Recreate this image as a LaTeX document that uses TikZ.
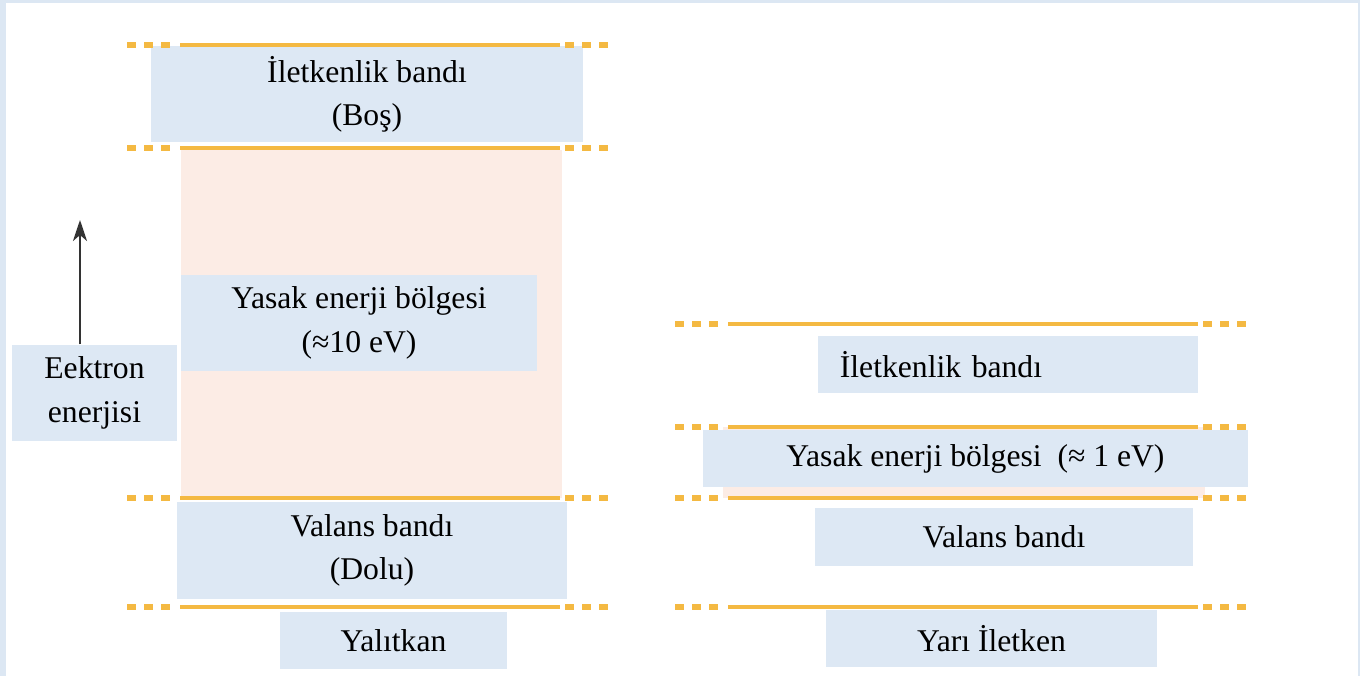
\documentclass[tikz,border=0pt]{standalone}
\usepackage{fontspec}
\setmainfont{Liberation Serif}
\usetikzlibrary{arrows.meta}
\definecolor{bandblue}{HTML}{DDE8F4}
\definecolor{bandgold}{HTML}{F4B942}
\definecolor{gappink}{HTML}{FCECE5}
\definecolor{framebl}{HTML}{DCE7F3}
\begin{document}
\begin{tikzpicture}[x=0.01cm, y=-0.01cm, >={Stealth[length=0.21cm, width=0.14cm, inset=0.06cm]},
    band/.style={fill=bandblue, inner sep=0pt, align=center, font=\fontsize{9}{12.3}\selectfont},
    edge/.style={draw=bandgold, line width=1.2pt},
    edgedash/.style={edge, line width=1.5pt, dash pattern=on 0.09cm off 0.08cm}]
    % frame
    \fill[framebl] (0, 0) rectangle (1360, 676);
    \fill[white] (6, 3) rectangle (1358, 676);
    % forbidden gaps
    \fill[gappink] (181, 150) rectangle (562, 498);
    \fill[gappink] (723, 427) rectangle (1205, 498);
    % boxes
    \node[band, minimum width=4.32cm, minimum height=0.96cm] (cbL) at (367, 94) {İletkenlik bandı\\(Boş)};
    \node[band, minimum width=3.56cm, minimum height=0.96cm] (gapL) at (359, 323) {Yasak enerji bölgesi\\(≈10 eV)};
    \node[band, minimum width=1.65cm, minimum height=0.96cm] (enrj) at (94.5, 393) {Eektron\\enerjisi};
    \node[band, minimum width=3.90cm, minimum height=0.97cm] (vbL) at (372, 550.5) {Valans bandı\\(Dolu)};
    \node[band, minimum width=2.27cm, minimum height=0.57cm] (insul) at (393.5, 640.5) {Yalıtkan};
    \node[band, minimum width=3.80cm, minimum height=0.57cm, text width=3.36cm, align=left, inner xsep=0.22cm] (cbR) at (1008, 364.5) {İletkenlik bandı};
    \node[band, minimum width=5.45cm, minimum height=0.57cm] (gapR) at (975.5, 458.5) {Yasak enerji bölgesi~~(≈ 1 eV)};
    \node[band, minimum width=3.78cm, minimum height=0.58cm] (vbR) at (1004, 537) {Valans bandı};
    \node[band, minimum width=3.31cm, minimum height=0.57cm] (semi) at (991.5, 638.5) {Yarı İletken};
    % band edges
    \foreach \y in {45, 148, 498, 607} {
        \draw[edgedash] (127, \y) -- (178, \y);
        \draw[edge] (180, \y) -- (560, \y);
        \draw[edgedash] (565, \y) -- (616, \y);
    };
    \foreach \y in {324, 427, 498, 607} {
        \draw[edgedash] (675, \y) -- (726, \y);
        \draw[edge] (728, \y) -- (1198, \y);
        \draw[edgedash] (1203, \y) -- (1254, \y);
    };
    % energy axis
    \coordinate (etip) at (80, 220);
    \draw[->, line width=0.6pt, black!80] (enrj.north -| etip) -- (etip);
\end{tikzpicture}
\end{document}
